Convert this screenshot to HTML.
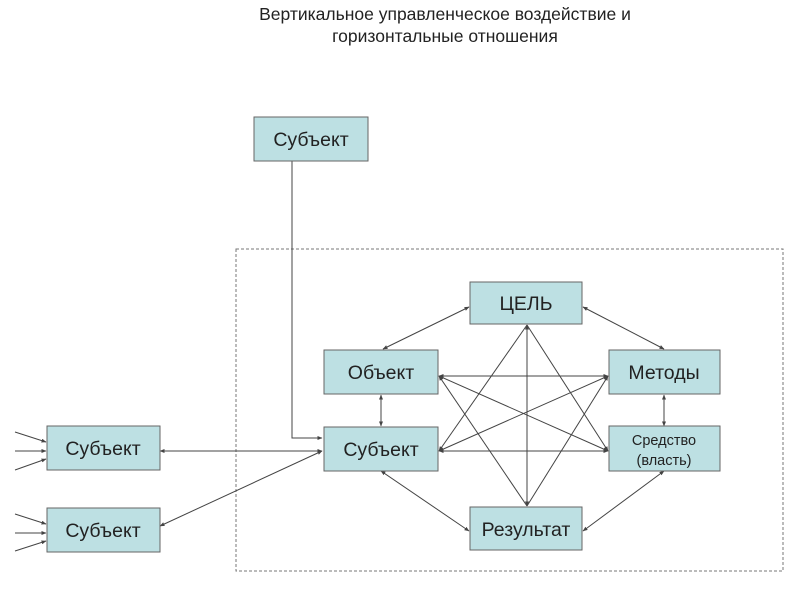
<!DOCTYPE html>
<html><head><meta charset="utf-8"><style>
html,body{margin:0;padding:0;background:#fff;}
svg{display:block;}
text{font-family:"Liberation Sans",sans-serif;fill:#222;}
</style></head><body>
<svg width="800" height="600" viewBox="0 0 800 600" xmlns="http://www.w3.org/2000/svg">
<defs>
<marker id="a" viewBox="0 0 10 10" refX="9" refY="5" markerWidth="5" markerHeight="5" orient="auto-start-reverse"><path d="M0,1 L10,5 L0,9 z" fill="#444"/></marker>
</defs>
<text x="445" y="20" font-size="17.5" text-anchor="middle" fill="#333">Вертикальное управленческое воздействие и</text>
<text x="445" y="42" font-size="17.5" text-anchor="middle" fill="#333">горизонтальные отношения</text>
<rect x="236" y="249" width="547" height="322" fill="none" stroke="#777" stroke-dasharray="3,2"/>
<g stroke="#444" stroke-width="1" fill="none">
<path d="M292,161 V438 H322" marker-end="url(#a)"/>
<line x1="160" y1="451" x2="322" y2="451" marker-start="url(#a)" marker-end="url(#a)"/>
<line x1="160" y1="526" x2="322" y2="451" marker-start="url(#a)" marker-end="url(#a)"/>
<line x1="15" y1="432" x2="46" y2="442" marker-end="url(#a)"/>
<line x1="15" y1="451" x2="46" y2="451" marker-end="url(#a)"/>
<line x1="15" y1="470" x2="46" y2="459" marker-end="url(#a)"/>
<line x1="15" y1="514" x2="46" y2="524" marker-end="url(#a)"/>
<line x1="15" y1="533" x2="46" y2="533" marker-end="url(#a)"/>
<line x1="15" y1="551" x2="46" y2="541" marker-end="url(#a)"/>
<line x1="469" y1="307" x2="383" y2="349" marker-start="url(#a)" marker-end="url(#a)"/>
<line x1="583" y1="307" x2="664" y2="349" marker-start="url(#a)" marker-end="url(#a)"/>
<line x1="381" y1="395" x2="381" y2="426" marker-start="url(#a)" marker-end="url(#a)"/>
<line x1="664" y1="395" x2="664" y2="426" marker-start="url(#a)" marker-end="url(#a)"/>
<line x1="381" y1="471" x2="469" y2="531" marker-start="url(#a)" marker-end="url(#a)"/>
<line x1="664" y1="471" x2="583" y2="531" marker-start="url(#a)" marker-end="url(#a)"/>
<line x1="527" y1="325" x2="527" y2="506" marker-start="url(#a)" marker-end="url(#a)"/>
<line x1="439" y1="376" x2="608" y2="376" marker-start="url(#a)" marker-end="url(#a)"/>
<line x1="439" y1="451" x2="608" y2="451" marker-start="url(#a)" marker-end="url(#a)"/>
<line x1="527" y1="325" x2="439" y2="451" marker-end="url(#a)"/>
<line x1="527" y1="325" x2="608" y2="451" marker-end="url(#a)"/>
<line x1="527" y1="506" x2="439" y2="376" marker-end="url(#a)"/>
<line x1="527" y1="506" x2="608" y2="376" marker-end="url(#a)"/>
<line x1="439" y1="376" x2="608" y2="451" marker-start="url(#a)" marker-end="url(#a)"/>
<line x1="439" y1="451" x2="608" y2="376" marker-start="url(#a)" marker-end="url(#a)"/>
</g>
<g fill="#bde0e3" stroke="#666" stroke-width="1">
<rect x="254" y="117" width="114" height="44"/>
<rect x="47" y="426" width="113" height="44"/>
<rect x="47" y="508" width="113" height="44"/>
<rect x="470" y="282" width="112" height="42"/>
<rect x="324" y="350" width="114" height="44"/>
<rect x="609" y="350" width="111" height="44"/>
<rect x="324" y="427" width="114" height="44"/>
<rect x="609" y="426" width="111" height="45"/>
<rect x="470" y="507" width="112" height="43"/>
</g>
<g font-size="19.5" text-anchor="middle">
<text x="311" y="146">Субъект</text>
<text x="103" y="455">Субъект</text>
<text x="103" y="537">Субъект</text>
<text x="526" y="310">ЦЕЛЬ</text>
<text x="381" y="379">Объект</text>
<text x="664" y="379">Методы</text>
<text x="381" y="456">Субъект</text>
<text x="526" y="536">Результат</text>
</g>
<text x="664" y="445" font-size="14.5" text-anchor="middle">Средство</text>
<text x="664" y="465" font-size="14.5" text-anchor="middle">(власть)</text>
</svg>
</body></html>
